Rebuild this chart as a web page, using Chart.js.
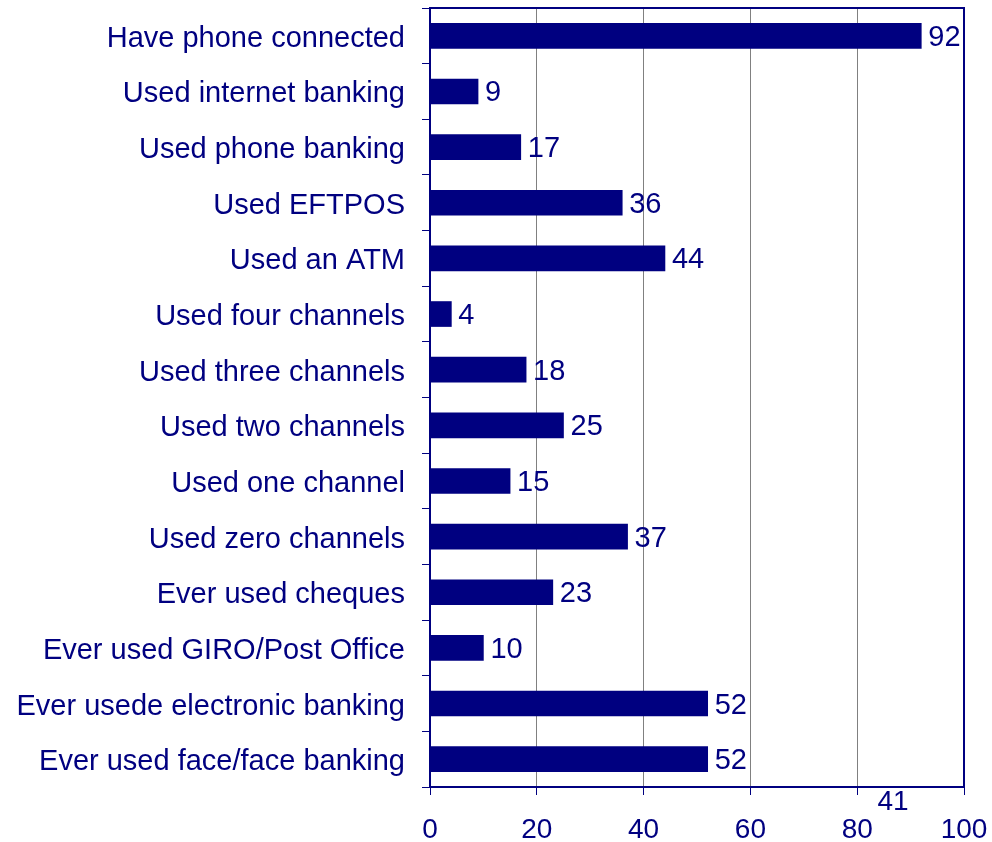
<!DOCTYPE html>
<html>
<head>
<meta charset="utf-8">
<script src="https://cdn.jsdelivr.net/npm/chart.js@4/dist/chart.umd.min.js"></script>
<style>
  html, body { margin: 0; padding: 0; background: #fff; }
  #wrap { width: 992px; height: 842px; }
</style>
</head>
<body>
<div id="wrap"><canvas id="chart"></canvas></div>
<script>
// banking channel usage, percent
const categories = [
    'Have phone connected',
    'Used internet banking',
    'Used phone banking',
    'Used EFTPOS',
    'Used an ATM',
    'Used four channels',
    'Used three channels',
    'Used two channels',
    'Used one channel',
    'Used zero channels',
    'Ever used cheques',
    'Ever used GIRO/Post Office',
    'Ever usede electronic banking',
    'Ever used face/face banking'
];
const values = [92, 9, 17, 36, 44, 4, 18, 25, 15, 37, 23, 10, 52, 52];
const xTicks = [0, 20, 40, 60, 80, 100];
const footNote = '41';
const footNoteAt = 86.7; // x position of the stray note, in axis units

const NAVY = '#000080';
const FONT = "'Liberation Sans', Arial, sans-serif";

// values to the right of each bar, plus the frame on top/right
const barLabels = {
    id: 'barLabels',
    afterDatasetsDraw(chart) {
        const ctx = chart.ctx;
        const meta = chart.getDatasetMeta(0);
        ctx.save();
        ctx.font = '29px ' + FONT;
        ctx.fillStyle = NAVY;
        ctx.textAlign = 'left';
        ctx.textBaseline = 'middle';
        meta.data.forEach((bar, i) => {
            ctx.fillText(String(values[i]), bar.x + 7, bar.y + 2);
        });
        const a = chart.chartArea;
        ctx.strokeStyle = NAVY;
        ctx.lineWidth = 2;
        ctx.beginPath();
        ctx.moveTo(a.left, a.top);
        ctx.lineTo(a.right, a.top);
        ctx.lineTo(a.right, a.bottom);
        ctx.stroke();
        const xs = chart.scales.x;
        ctx.font = '28px ' + FONT;
        ctx.textAlign = 'center';
        ctx.fillText(footNote, xs.getPixelForValue(footNoteAt), a.bottom + 15);
        ctx.restore();
    }
};

new Chart(document.getElementById('chart'), {
    type: 'bar',
    data: {
        labels: categories,
        datasets: [{
            data: values,
            backgroundColor: NAVY,
            borderWidth: 0,
            barThickness: 25
        }]
    },
    options: {
        indexAxis: 'y',
        responsive: true,
        maintainAspectRatio: false,
        animation: false,
        layout: { padding: { top: 8, right: 28, bottom: 0, left: 0 } },
        plugins: {
            legend: { display: false },
            tooltip: { enabled: false }
        },
        scales: {
            x: {
                min: 0,
                max: 100,
                afterBuildTicks(axis) {
                    axis.ticks = xTicks.map(v => ({ value: v }));
                },
                afterFit(axis) {
                    axis.height = 55;
                    axis.paddingLeft = 0;
                    axis.paddingRight = 0;
                },
                border: { color: NAVY, width: 2 },
                grid: {
                    color: ctx => (ctx.index === xTicks.length - 1 ? NAVY : '#808080'),
                    tickColor: NAVY,
                    tickLength: 8,
                    lineWidth: 1
                },
                ticks: {
                    color: NAVY,
                    font: { family: FONT, size: 28 },
                    padding: 18,
                    maxRotation: 0
                }
            },
            y: {
                afterFit(axis) {
                    axis.width = 430;
                    axis.paddingTop = 0;
                    axis.paddingBottom = 0;
                },
                border: { color: NAVY, width: 2 },
                grid: {
                    offset: true,
                    drawOnChartArea: false,
                    tickColor: NAVY,
                    tickLength: 8
                },
                ticks: {
                    color: NAVY,
                    font: { family: FONT, size: 29 },
                    padding: 17,
                    labelOffset: 3,
                    autoSkip: false
                }
            }
        }
    },
    plugins: [barLabels]
});
</script>
</body>
</html>
